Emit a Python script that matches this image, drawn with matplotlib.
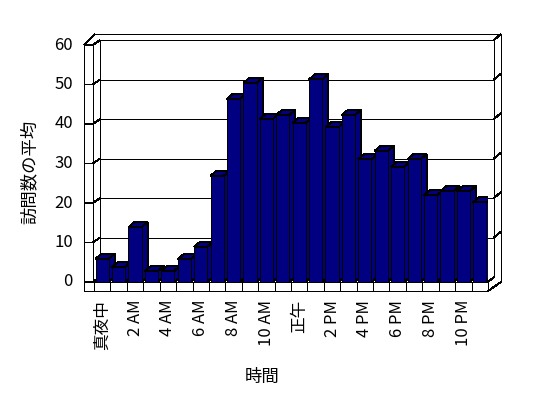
import matplotlib
matplotlib.use("Agg")
import matplotlib.pyplot as plt
from matplotlib.patches import Polygon

plt.rcParams['font.family'] = ['Noto Sans CJK JP', 'DejaVu Sans']

# average visits per hour (24 hours, midnight first)
hours = list(range(24))
visits = [5.9, 3.8, 13.9, 2.8, 2.8, 5.8, 8.9, 26.9, 46.4, 50.4, 41.3, 42.3,
          40.3, 51.3, 39.2, 42.3, 31.1, 33.2, 29.2, 31.1, 22.0, 23.0, 23.0, 20.2]
tick_pos = list(range(0, 24, 2))
tick_labels = ['真夜中', '2 AM', '4 AM', '6 AM', '8 AM', '10 AM',
               '正午', '2 PM', '4 PM', '6 PM', '8 PM', '10 PM']
yticks = [0, 10, 20, 30, 40, 50, 60]

W, H = 548, 398
fig = plt.figure(figsize=(W / 100, H / 100), dpi=100)
ax = fig.add_axes([94 / W, 116 / H, 394 / W, 237 / H])
ax.set_xlim(-0.5, 23.5)
ax.set_ylim(0, 60)
ax.axis('off')

# pixel -> data unit factors, for the fake 3d depth
sx = 24 / 394
sy = 60 / 237
L, R = -0.5, 23.5
navy = '#000080'
LW = 0.72  # one pixel


def pt(x, v, dx=0, dy=0):
    return (x + dx * sx, v + dy * sy)


def seg(*pts, z=1):
    xs, ys = zip(*pts)
    ax.plot(xs, ys, color='black', lw=LW, clip_on=False, antialiased=False,
            solid_capstyle='butt', zorder=z)


# back wall + gridlines
for v in yticks[1:]:
    seg(pt(L, v, 6, 5), pt(R, v, 6, 5))
    seg(pt(R, v, 6, 5), pt(R, v, 13, 11))
seg(pt(L, 0, 6, 5), pt(L, 60, 6, 5))
seg(pt(R, 0, 6, 5), pt(R, 60, 6, 5))
seg(pt(R, 0, 13, 0), pt(R, 60, 13, 11))
seg(pt(L, 60, 1, 11), pt(R, 60, 13, 11))

# left wall
seg(pt(L, 60, -10, 0), pt(L, 60, 1, 11))
seg(pt(L, 60, -1, 0), pt(L, 60, 6, 5))
seg(pt(L, 60, -10, 0), pt(L, 0, -10, -9))
seg(pt(L, 60, -1, 0), pt(L, 0, -1, 0))
for v in yticks:
    seg(pt(L, v, -10, 0), pt(L, v, -1, 0), pt(L, v, 6, 5))
    ax.text(*pt(L, v, -21, 0), str(v), ha='right', va='center', fontsize=12)

# floor
seg(pt(L, 0, -10, -9), pt(R, 0, 0, -9))
seg(pt(L, 0, -1, 0), pt(R, 0, 0, 0))
for k in range(25):
    seg(pt(k - 0.5, 0), pt(k - 0.5, 0, 0, -9))
seg(pt(R, 0, 0, -9), pt(R, 0, 13, 0))
seg(pt(R, 0, 0, 0), pt(R, 0, 6, 5))

# bars: sides and tops, then fronts
for i, v in zip(hours, visits):
    x0, x1 = i - 0.4, i + 0.4
    side = Polygon([pt(x1, 0), pt(x1, v), pt(x1, v, 6, 5), pt(x1, 0, 6, 5)],
                   closed=True, fc=navy, ec='black', lw=LW, zorder=2,
                   antialiased=False)
    top = Polygon([pt(x0, v), pt(x1, v), pt(x1, v, 6, 5), pt(x0, v, 6, 5)],
                  closed=True, fc=navy, ec='black', lw=LW, zorder=2,
                  antialiased=False)
    ax.add_patch(side)
    ax.add_patch(top)
ax.bar(hours, visits, width=0.8, color=navy, edgecolor='black', lw=LW,
       zorder=3, antialiased=False)

for p, lab in zip(tick_pos, tick_labels):
    ax.text(*pt(p, 0, 0, -18), lab, rotation=90, ha='center', va='top',
            fontsize=12)

ax.text(-0.162, 0.464, '訪問数の平均', rotation=90, ha='center', va='center',
        fontsize=12.5, transform=ax.transAxes)
ax.text(0.426, -0.40, '時間', ha='center', va='center', fontsize=12.5,
        transform=ax.transAxes)

fig.savefig('out.png', dpi=100)
